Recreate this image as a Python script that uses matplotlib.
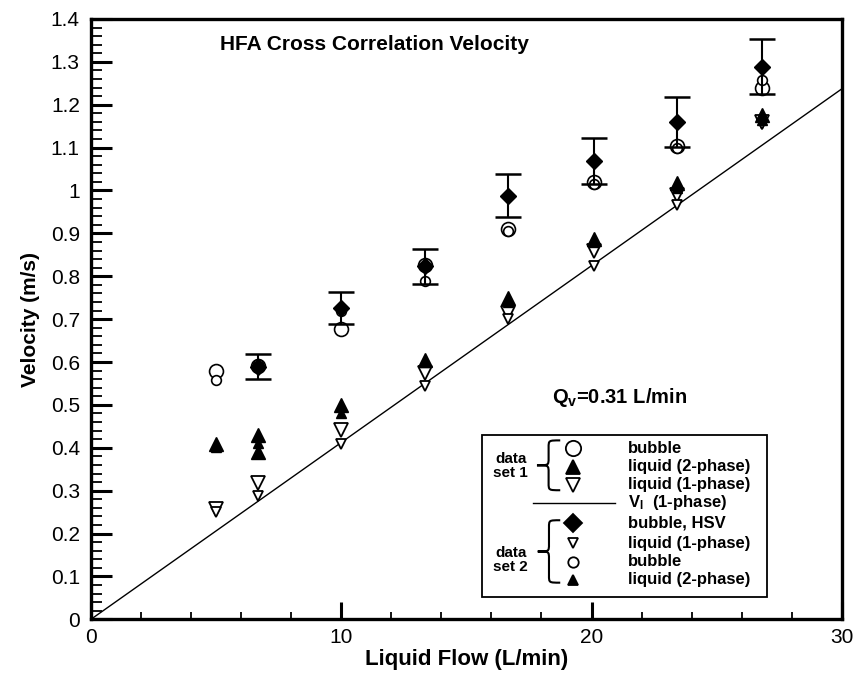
import numpy as np
import matplotlib
matplotlib.use("Agg")
import matplotlib.pyplot as plt
from matplotlib.path import Path
from matplotlib.patches import PathPatch, Rectangle
from matplotlib.lines import Line2D
from matplotlib.ticker import MultipleLocator

plt.rcParams['font.family'] = ['Liberation Sans', 'DejaVu Sans']
plt.rcParams['mathtext.fontset'] = 'custom'
plt.rcParams['mathtext.rm'] = 'Liberation Sans:bold'
plt.rcParams['mathtext.it'] = 'Liberation Sans:bold'

# data set 1 (large markers)
s1_bub_x = [5.0, 6.67, 10.0, 13.33, 16.67, 20.1, 23.4, 26.8]
s1_bub_y = [0.579, 0.590, 0.677, 0.826, 0.910, 1.019, 1.103, 1.239]
s1_liq2_x = [5.0, 6.67, 6.67, 10.0, 13.33, 16.67, 20.1, 23.4, 26.8]
s1_liq2_y = [0.408, 0.430, 0.391, 0.500, 0.605, 0.749, 0.887, 1.017, 1.177]
s1_liq1_x = [5.0, 6.67, 10.0, 13.33, 16.67, 20.1, 23.4, 26.8]
s1_liq1_y = [0.258, 0.319, 0.442, 0.574, 0.715, 0.858, 0.990, 1.160]

# data set 2 (small markers + HSV bubble velocity)
s2_hsv_x = [6.67, 10.0, 13.33, 16.67, 20.1, 23.4, 26.8]
s2_hsv_y = [0.589, 0.726, 0.823, 0.988, 1.068, 1.159, 1.289]
s2_hsv_err = [0.029, 0.037, 0.040, 0.050, 0.054, 0.058, 0.065]
s2_liq1_x = [5.0, 6.67, 10.0, 13.33, 16.67, 20.1, 23.4, 26.8]
s2_liq1_y = [0.250, 0.288, 0.408, 0.544, 0.700, 0.823, 0.967, 1.155]
s2_bub_x = [5.0, 6.67, 10.0, 13.33, 16.67, 20.1, 23.4, 26.8]
s2_bub_y = [0.558, 0.595, 0.720, 0.788, 0.905, 1.015, 1.100, 1.258]
s2_liq2_x = [5.0, 6.67, 10.0, 13.33, 16.67, 20.1, 23.4, 26.8]
s2_liq2_y = [0.402, 0.411, 0.481, 0.600, 0.741, 0.880, 1.006, 1.165]

# single phase liquid velocity line
vl_x = [0.0, 30.0]
vl_y = [0.0, 1.237]

fig = plt.figure(figsize=(8.64, 6.73), dpi=100)
ax = fig.add_axes([0.1053, 0.0798, 0.869, 0.892])

ax.plot(vl_x, vl_y, color='black', lw=1.0, zorder=2)

open_kw = dict(ls='none', mfc='white', mec='black', zorder=3)
fill_kw = dict(ls='none', mfc='black', mec='black', zorder=4)

ax.plot(s1_bub_x, s1_bub_y, marker='o', ms=10, mew=1.2, **open_kw)
ax.plot(s2_bub_x, s2_bub_y, marker='o', ms=7, mew=1.2, **open_kw)
ax.plot(s1_liq1_x, s1_liq1_y, marker='v', ms=10, mew=1.3, **open_kw)
ax.plot(s2_liq1_x, s2_liq1_y, marker='v', ms=6.5, mew=1.3, **open_kw)
ax.plot(s1_liq2_x, s1_liq2_y, marker='^', ms=10, **fill_kw)
ax.plot(s2_liq2_x, s2_liq2_y, marker='^', ms=6.5, **fill_kw)
ax.errorbar(s2_hsv_x, s2_hsv_y, yerr=s2_hsv_err, fmt='D', ms=8, mfc='black',
            mec='black', ecolor='black', elinewidth=1.5, capsize=9.5,
            capthick=1.8, zorder=5)

ax.set_xlim(0, 30)
ax.set_ylim(0, 1.4)

ax.xaxis.set_major_locator(MultipleLocator(10))
ax.xaxis.set_minor_locator(MultipleLocator(2))
ax.yaxis.set_major_locator(MultipleLocator(0.1))
ax.yaxis.set_minor_locator(MultipleLocator(0.02))
ax.yaxis.set_major_formatter(plt.FuncFormatter(lambda v, p: f"{v:g}"))

ax.tick_params(which='both', direction='in', top=False, right=False,
               labelsize=15)
ax.tick_params(axis='y', which='major', length=15, width=2.2, pad=8)
ax.tick_params(axis='y', which='minor', length=8, width=1.3)
ax.tick_params(axis='x', which='major', length=12, width=2.2, pad=6)
ax.tick_params(axis='x', which='minor', length=5, width=1.3)
for sp in ax.spines.values():
    sp.set_linewidth(2.4)

ax.set_xlabel('Liquid Flow (L/min)', fontsize=16, fontweight='bold', labelpad=2)
ax.set_ylabel('Velocity (m/s)', fontsize=15, fontweight='bold', labelpad=8)

ax.text(0.377, 0.957, 'HFA Cross Correlation Velocity', transform=ax.transAxes,
        ha='center', va='center', fontsize=15, fontweight='bold')
ax.text(0.614, 0.369, r'Q$_\mathrm{v}$=0.31 L/min', transform=ax.transAxes,
        ha='left', va='center', fontsize=14.5, fontweight='bold')

# hand built legend, axes fraction coordinates
T = ax.transAxes
ax.add_patch(Rectangle((0.521, 0.037), 0.380, 0.270, transform=T,
                       fc='white', ec='black', lw=1.3, zorder=6))

rows = [0.285, 0.254, 0.224, 0.194, 0.160, 0.127, 0.096, 0.066]
mx, tx = 0.642, 0.715
entries = [
    ('o', 11, 'white', 'bubble'),
    ('^', 10, 'black', 'liquid (2-phase)'),
    ('v', 10, 'white', 'liquid (1-phase)'),
    (None, 0, None, r'V$_\mathrm{l}$  (1-phase)'),
    ('D', 9, 'black', 'bubble, HSV'),
    ('v', 6.5, 'white', 'liquid (1-phase)'),
    ('o', 7.5, 'white', 'bubble'),
    ('^', 6.5, 'black', 'liquid (2-phase)'),
]
for yy, (mk, ms, fc, lab) in zip(rows, entries):
    if mk is None:
        ax.add_line(Line2D([0.589, 0.698], [yy, yy], transform=T, color='black',
                           lw=1.0, zorder=7))
    else:
        ax.add_line(Line2D([mx], [yy], transform=T, marker=mk, ms=ms, mfc=fc,
                           mec='black', mew=1.3, ls='none', zorder=7))
    ax.text(tx, yy, lab, transform=T, ha='left', va='center', fontsize=12,
            fontweight='bold', zorder=7)


def brace(x_tip, x_end, y_top, y_bot):
    ym = (y_top + y_bot) / 2
    xb = (x_tip + x_end) / 2
    r = 0.012
    verts = [(x_end, y_top), (xb, y_top), (xb, y_top), (xb, y_top - r),
             (xb, ym + r), (xb, ym), (xb, ym), (x_tip, ym),
             (xb, ym), (xb, ym), (xb, ym - r),
             (xb, y_bot + r), (xb, y_bot), (xb, y_bot), (x_end, y_bot)]
    codes = [Path.MOVETO, Path.CURVE4, Path.CURVE4, Path.CURVE4,
             Path.LINETO, Path.CURVE4, Path.CURVE4, Path.CURVE4,
             Path.CURVE4, Path.CURVE4, Path.CURVE4,
             Path.LINETO, Path.CURVE4, Path.CURVE4, Path.CURVE4]
    ax.add_patch(PathPatch(Path(verts, codes), transform=T, fc='none',
                           ec='black', lw=1.5, zorder=7))


brace(0.594, 0.625, 0.298, 0.215)
brace(0.595, 0.625, 0.165, 0.061)

ax.text(0.559, 0.256, 'data\nset 1', transform=T, ha='center', va='center',
        fontsize=11, fontweight='bold', linespacing=1.0, zorder=7)
ax.text(0.559, 0.099, 'data\nset 2', transform=T, ha='center', va='center',
        fontsize=11, fontweight='bold', linespacing=1.0, zorder=7)

fig.savefig('out.png', dpi=100)
